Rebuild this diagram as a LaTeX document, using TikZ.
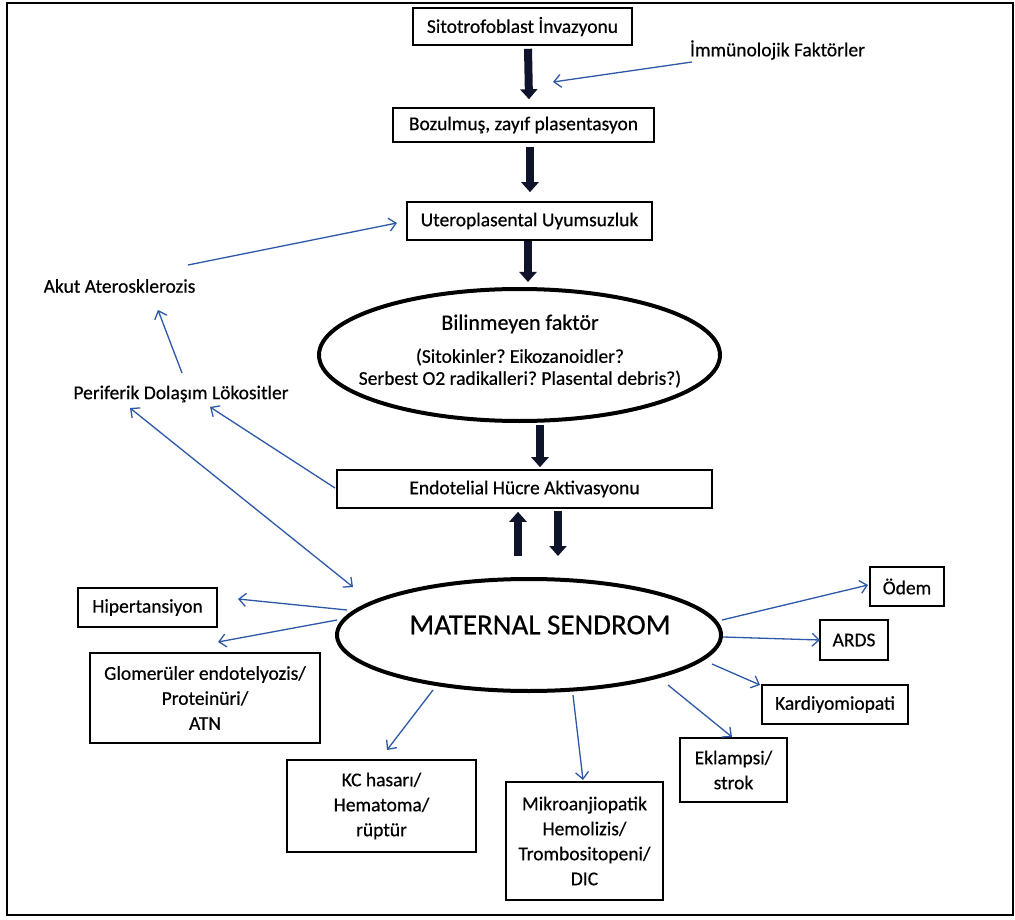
\documentclass[tikz,border=0pt]{standalone}
\usepackage{fontspec}
\setmainfont{Carlito}[FakeBold=0.5]
\usetikzlibrary{arrows.meta,calc,shapes.geometric}
\definecolor{arrowblue}{RGB}{45,88,168}
\definecolor{darknavy}{RGB}{16,20,42}
\newcommand{\fsz}{\fontsize{19.5}{25}\selectfont}
\frenchspacing
\begin{document}
\frenchspacing
\begin{tikzpicture}[x=1pt,y=-1pt,
  box/.style={draw=black,line width=1.6pt,fill=white,inner sep=0pt,align=center,font=\fsz},
  txt/.style={inner sep=0pt,font=\fsz,align=center},
  oval/.style={draw=black,line width=4pt,ellipse,inner sep=0pt},
  bigarrow/.style={draw=darknavy,line width=8pt,-{Triangle[width=17pt,length=10pt]}},
  bluearrow/.style={draw=arrowblue,line width=1.3pt,-{Straight Barb[length=7pt,width=13pt]}},
  bluearrowboth/.style={draw=arrowblue,line width=1.3pt,{Straight Barb[length=7pt,width=13pt]}-{Straight Barb[length=7pt,width=13pt]}}
]
\useasboundingbox (0,0) rectangle (1015,920);
\fill[white] (0,0) rectangle (1015,920);
\draw[line width=2.5pt] (7,3) rectangle (1013,915);

% nodes
\node[box, minimum width=219pt, minimum height=37pt] (b1) at (522.5,26.5) {Sitotrofoblast İnvazyonu};
\node[txt] (imm) at (777.5,50) {İmmünolojik Faktörler};
\node[box, minimum width=261pt, minimum height=34pt] (b2) at (523.5,125) {Bozulmuş, zayıf plasentasyon};
\node[box, minimum width=245pt, minimum height=38pt] (b3) at (529.5,221) {Uteroplasental Uyumsuzluk};
\node[oval, minimum width=401pt, minimum height=132pt] (e1) at (519.5,355) {};
\node[txt, font=\fontsize{19.5}{22}\selectfont] (e1t) at (520,351) {{\fontsize{22}{26}\selectfont Bilinmeyen faktör}\\[11pt](Sitokinler? Eikozanoidler?\\Serbest O2 radikalleri? Plasental debris?)};
\node[txt] (akut) at (119.5,286) {Akut Aterosklerozis};
\node[txt] (peri) at (181,394) {Periferik Dolaşım Lökositler};
\node[box, minimum width=375pt, minimum height=38pt] (b4) at (524.5,489) {Endotelial Hücre Aktivasyonu};
\node[oval, minimum width=384pt, minimum height=112pt] (mat) at (529,635) {};
\node[txt, font=\fontsize{29}{34}\selectfont] (matt) at (540,625) {MATERNAL SENDROM};
\node[box, minimum width=139pt, minimum height=39pt] (hip) at (147.5,607.5) {Hipertansiyon};
\node[box, minimum width=230pt, minimum height=90pt] (glom) at (205,698) {Glomerüler endotelyozis/\\Proteinüri/\\ATN};
\node[box, minimum width=189pt, minimum height=92pt] (kc) at (381.5,806) {KC hasarı/\\Hematoma/\\rüptür};
\node[box, minimum width=157pt, minimum height=118pt] (mik) at (584.5,841) {Mikroanjiopatik\\Hemolizis/\\Trombositopeni/\\DIC};
\node[box, minimum width=107pt, minimum height=64pt] (ekl) at (733.5,770) {Eklampsi/\\strok};
\node[box, minimum width=146pt, minimum height=39pt] (kard) at (835,704.5) {Kardiyomiopati};
\node[box, minimum width=68pt, minimum height=40pt] (ards) at (854,640) {ARDS};
\node[box, minimum width=74pt, minimum height=39pt] (odem) at (907,586.5) {Ödem};
\coordinate (immtip) at (553,82);

% thick black arrows
\draw[bigarrow] ($(b1.south)+(5.5,3)$) -- ($(b2.north)+(5.5,-8)$);
\draw[bigarrow] ($(b2.south)+(6.5,4)$) -- ($(b3.north)+(0.5,-9)$);
\draw[bigarrow] ($(b3.south)+(-1.5,0)$) -- ($(e1.north)+(8.5,-5)$);
\draw[bigarrow] ($(e1.south)+(20.5,2)$) -- ($(b4.north)+(15.5,-2)$);
\draw[bigarrow] ($(mat.north)+(-11,-21)$) -- ($(b4.south)+(-6.5,3)$);
\draw[bigarrow] ($(b4.south)+(33.5,2)$) -- ($(mat.north)+(29,-21)$);

% blue arrows
\draw[bluearrow] ($(imm)+(-85.5,12)$) -- (immtip);
\draw[bluearrow] ($(akut)+(68.5,-21)$) -- ($(b3)+(-132.5,2)$);
\draw[bluearrow] ($(peri)+(1,-21)$) -- ($(akut)+(38.5,24)$);
\draw[bluearrow] ($(b4)+(-189.5,-1)$) -- ($(peri)+(29,13)$);
\draw[bluearrowboth] ($(peri)+(-51,14)$) -- ($(mat)+(-176,-48)$);
\draw[bluearrow] ($(mat)+(-182,-25)$) -- ($(hip)+(90.5,-8.5)$);
\draw[bluearrow] ($(mat)+(-192,-15)$) -- ($(glom)+(13,-56)$);
\draw[bluearrow] ($(mat)+(-96,55)$) -- ($(kc)+(5.5,-56)$);
\draw[bluearrow] ($(mat)+(44,60)$) -- ($(mik)+(-1.5,-61)$);
\draw[bluearrow] ($(mat)+(139,50)$) -- ($(ekl)+(-1.5,-33)$);
\draw[bluearrow] ($(mat)+(183,29)$) -- ($(kard)+(-75,-19.5)$);
\draw[bluearrow] ($(mat)+(194,2)$) -- ($(ards)+(-34,0)$);
\draw[bluearrow] ($(mat)+(193,-15)$) -- ($(odem)+(-39,-1.5)$);
\end{tikzpicture}
\end{document}
